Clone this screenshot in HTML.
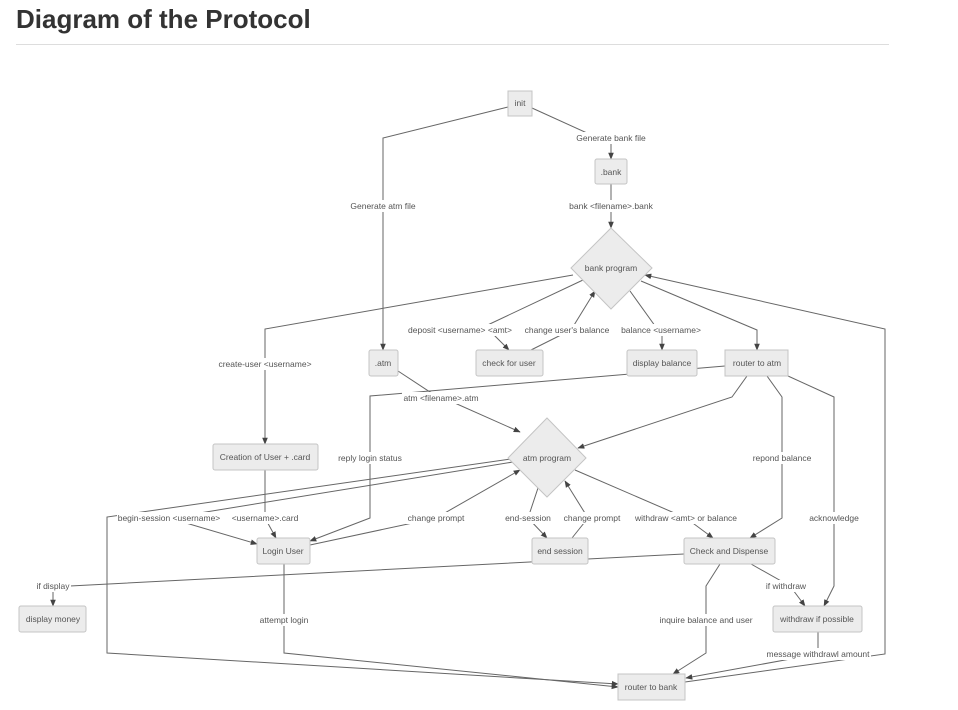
<!DOCTYPE html>
<html><head><meta charset="utf-8"><style>
body{margin:0;background:#fff;width:958px;height:710px;overflow:hidden;font-family:"Liberation Sans",sans-serif}
h1{position:absolute;left:16px;top:4px;margin:0;font-size:26px;font-weight:bold;color:#333}
.rule{position:absolute;left:16px;top:44px;width:873px;height:1px;background:#ddd}
svg{position:absolute;left:0;top:0}
text{font-family:"Liberation Sans",sans-serif;font-size:8.5px;fill:#555;text-anchor:middle;dominant-baseline:central}
.e{fill:none;stroke:#666;stroke-width:1}
.n{fill:#ececec;stroke:#c4c4c4;stroke-width:1}
.lb{fill:#fff}
</style></head><body>
<h1>Diagram of the Protocol</h1><div class="rule"></div>
<svg width="958" height="710" viewBox="0 0 958 710">
<defs><marker id="a" viewBox="0 0 10 10" refX="9" refY="5" markerWidth="7" markerHeight="7" orient="auto"><path d="M0,1 L10,5 L0,9z" fill="#444"/></marker></defs>
<g class="e" marker-end="url(#a)">
<polyline points="508,107 383,138 383,350"/>
<polyline points="532,108 598,138 611,138 611,159"/>
<polyline points="611,184 611,228"/>
<polyline points="573,275 265,329 265,444"/>
<polyline points="583,280 477,330 489,330 509,350"/>
<polyline points="531,350 571,330 595,291"/>
<polyline points="630,291 658,330 662,330 662,350"/>
<polyline points="641,281 757,330 757,350"/>
<polyline points="685,682 885,654 885,329 645,275"/>
<polyline points="725,366 370,396 370,518 310,541"/>
<polyline points="398,371 430,392 520,432"/>
<polyline points="747,376 732,397 578,448"/>
<polyline points="767,376 782,397 782,518 750,538"/>
<polyline points="788,376 834,397 834,586 824,606"/>
<polyline points="265,470 265,518 276,538"/>
<polyline points="513,462 169,518 257,544"/>
<polyline points="511,459 107,517 107,653 618,684"/>
<polyline points="310,545 436,518 520,470"/>
<polyline points="538,488 528,518 547,538"/>
<polyline points="572,538 588,518 565,481"/>
<polyline points="575,470 686,518 713,538"/>
<polyline points="684,554 70,586 53,586 53,606"/>
<polyline points="284,564 284,653 618,687"/>
<polyline points="720,564 706,586 706,653 673,674"/>
<polyline points="751,564 790,586 805,606"/>
<polyline points="818,632 818,654 686,678"/>
</g>
<g>
<rect class="lb" x="348" y="200" width="71" height="12"/><text x="383" y="206">Generate atm file</text>
<rect class="lb" x="574" y="132" width="74" height="12"/><text x="611" y="138">Generate bank file</text>
<rect class="lb" x="568" y="200" width="86" height="12"/><text x="611" y="206">bank &lt;filename&gt;.bank</text>
<rect class="lb" x="218" y="358" width="94" height="12"/><text x="265" y="364">create-user &lt;username&gt;</text>
<rect class="lb" x="407" y="324" width="106" height="12"/><text x="460" y="330">deposit &lt;username&gt; &lt;amt&gt;</text>
<rect class="lb" x="524" y="324" width="86" height="12"/><text x="567" y="330">change user's balance</text>
<rect class="lb" x="621" y="324" width="80" height="12"/><text x="661" y="330">balance &lt;username&gt;</text>
<rect class="lb" x="402" y="392" width="78" height="12"/><text x="441" y="398">atm &lt;filename&gt;.atm</text>
<rect class="lb" x="337" y="452" width="66" height="12"/><text x="370" y="458">reply login status</text>
<rect class="lb" x="751" y="452" width="62" height="12"/><text x="782" y="458">repond balance</text>
<rect class="lb" x="809" y="512" width="52" height="12"/><text x="834" y="518">acknowledge</text>
<rect class="lb" x="117" y="512" width="104" height="12"/><text x="169" y="518">begin-session &lt;username&gt;</text>
<rect class="lb" x="232" y="512" width="67" height="12"/><text x="265" y="518">&lt;username&gt;.card</text>
<rect class="lb" x="406" y="512" width="60" height="12"/><text x="436" y="518">change prompt</text>
<rect class="lb" x="504" y="512" width="48" height="12"/><text x="528" y="518">end-session</text>
<rect class="lb" x="562" y="512" width="60" height="12"/><text x="592" y="518">change prompt</text>
<rect class="lb" x="632" y="512" width="108" height="12"/><text x="686" y="518">withdraw &lt;amt&gt; or balance</text>
<rect class="lb" x="35" y="580" width="36" height="12"/><text x="53" y="586">if display</text>
<rect class="lb" x="764" y="580" width="44" height="12"/><text x="786" y="586">if withdraw</text>
<rect class="lb" x="258" y="614" width="52" height="12"/><text x="284" y="620">attempt login</text>
<rect class="lb" x="659" y="614" width="95" height="12"/><text x="706" y="620">inquire balance and user</text>
<rect class="lb" x="765" y="648" width="106" height="12"/><text x="818" y="654">message withdrawl amount</text>
</g>
<g>
<rect class="n" x="508" y="91" width="24" height="25"/><text x="520" y="103">init</text>
<rect class="n" x="595" y="159" width="32" height="25" rx="2"/><text x="611" y="172">.bank</text>
<polygon class="n" points="611,228 652,268 611,309 571,268"/><text x="611" y="268">bank program</text>
<rect class="n" x="369" y="350" width="29" height="26" rx="2"/><text x="383" y="363">.atm</text>
<rect class="n" x="476" y="350" width="67" height="26" rx="2"/><text x="509" y="363">check for user</text>
<rect class="n" x="627" y="350" width="70" height="26" rx="2"/><text x="662" y="363">display balance</text>
<rect class="n" x="725" y="350" width="63" height="26"/><text x="757" y="363">router to atm</text>
<rect class="n" x="213" y="444" width="105" height="26" rx="2"/><text x="265" y="457">Creation of User + .card</text>
<polygon class="n" points="547,418 586,458 547,497 508,458"/><text x="547" y="458">atm program</text>
<rect class="n" x="257" y="538" width="53" height="26" rx="2"/><text x="283" y="551">Login User</text>
<rect class="n" x="532" y="538" width="56" height="26" rx="2"/><text x="560" y="551">end session</text>
<rect class="n" x="684" y="538" width="91" height="26" rx="2"/><text x="729" y="551">Check and Dispense</text>
<rect class="n" x="19" y="606" width="67" height="26" rx="2"/><text x="53" y="619">display money</text>
<rect class="n" x="773" y="606" width="89" height="26" rx="2"/><text x="817" y="619">withdraw if possible</text>
<rect class="n" x="618" y="674" width="67" height="26"/><text x="651" y="687">router to bank</text>
</g>
</svg>
</body></html>
